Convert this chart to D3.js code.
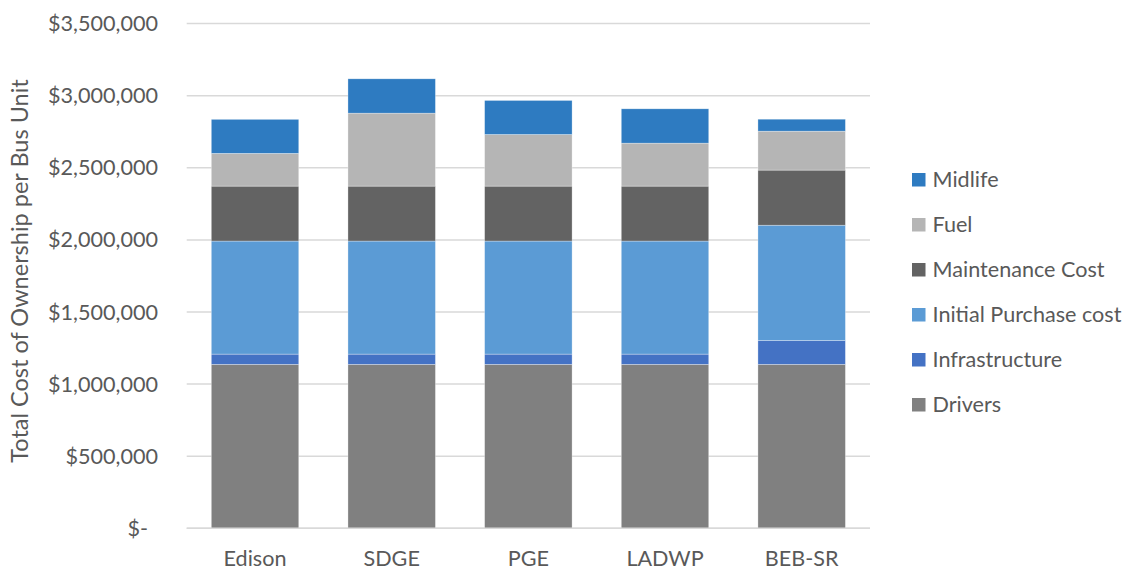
<!DOCTYPE html>
<html>
<head>
<meta charset="utf-8">
<script src="https://cdn.jsdelivr.net/npm/d3@7"></script>
<style>
  body { margin: 0; background: #fff; }
  svg { display: block; font-family: Lato, "Noto Sans", sans-serif; }
</style>
</head>
<body>
<svg id="chart" width="1128" height="570"></svg>
<script>
const categories = ["Edison", "SDGE", "PGE", "LADWP", "BEB-SR"];
const seriesNames = ["Drivers", "Infrastructure", "Initial Purchase cost", "Maintenance Cost", "Fuel", "Midlife"];
const drivers = [1137000, 1137000, 1137000, 1137000, 1137000];
const infrastructure = [71000, 71000, 71000, 71000, 166000];
const initialPurchase = [784000, 784000, 784000, 784000, 799000];
const maintenance = [381000, 381000, 381000, 381000, 382000];
const fuel = [227000, 506000, 358000, 298000, 270000];
const midlife = [236000, 238000, 236000, 238000, 83000];
const yTicks = [0, 500000, 1000000, 1500000, 2000000, 2500000, 3000000, 3500000];
const colors = ["#808080", "#4472C4", "#5B9BD5", "#636363", "#B5B5B5", "#2E7BC1"];

(function () {
const seriesValues = [drivers, infrastructure, initialPurchase, maintenance, fuel, midlife];
const rows = categories.map((c, i) => {
  const r = { cat: c };
  seriesNames.forEach((s, j) => r[s] = seriesValues[j][i]);
  return r;
});
const stacked = d3.stack().keys(seriesNames)(rows);

const svg = d3.select("#chart");
const pLeft = 186.7, pRight = 870, pTop = 23.6, pBottom = 528.3;
const fs = 21.6;

const x = d3.scaleBand().domain(categories).range([pLeft, pRight]).paddingInner(0.36).paddingOuter(0.18);
const y = d3.scaleLinear().domain([0, 3500000]).range([pBottom, pTop]);

// gridlines
svg.append("g").selectAll("line").data(yTicks).join("line")
  .attr("x1", pLeft).attr("x2", pRight)
  .attr("y1", d => y(d)).attr("y2", d => y(d))
  .attr("stroke", "#D9D9D9").attr("stroke-width", 1.5);

// y tick labels
const fmt = d3.format(",");
svg.append("g").selectAll("text").data(yTicks).join("text")
  .attr("x", d => d === 0 ? 148 : 158)
  .attr("y", d => y(d))
  .attr("dy", "0.35em")
  .attr("text-anchor", "end")
  .attr("fill", "#595959")
  .attr("font-size", fs)
  .text(d => d === 0 ? "$-" : "$" + fmt(d));

// bars
svg.append("g").selectAll("g").data(stacked).join("g")
  .attr("fill", (d, i) => colors[i])
  .selectAll("rect").data(d => d).join("rect")
  .attr("x", d => x(d.data.cat))
  .attr("width", x.bandwidth())
  .attr("y", d => y(d[1]))
  .attr("height", d => y(d[0]) - y(d[1]))
  .attr("stroke", "#ffffff").attr("stroke-width", 0.6).attr("stroke-opacity", 0.5);

// x axis line
svg.append("line").attr("x1", pLeft).attr("x2", pRight)
  .attr("y1", pBottom).attr("y2", pBottom)
  .attr("stroke", "#D9D9D9").attr("stroke-width", 1.5);

// x labels
svg.append("g").selectAll("text").data(categories).join("text")
  .attr("x", d => x(d) + x.bandwidth() / 2)
  .attr("y", 566)
  .attr("text-anchor", "middle")
  .attr("fill", "#595959")
  .attr("font-size", fs)
  .text(d => d);

// y title
svg.append("text")
  .attr("transform", "translate(28,271) rotate(-90)")
  .attr("text-anchor", "middle")
  .attr("fill", "#595959")
  .attr("font-size", 23.5)
  .text("Total Cost of Ownership per Bus Unit");

// legend (reverse order)
const legendItems = seriesNames.map((s, i) => ({ name: s, color: colors[i] })).reverse();
const lg = svg.append("g").selectAll("g").data(legendItems).join("g")
  .attr("transform", (d, i) => `translate(912,${179.5 + i * 45})`);
lg.append("rect").attr("x", 0).attr("y", -6.5).attr("width", 13.5).attr("height", 13.5).attr("fill", d => d.color);
lg.append("text").attr("x", 20.5).attr("y", 0).attr("dy", "0.35em")
  .attr("fill", "#595959").attr("font-size", fs).text(d => d.name);
})();
</script>
</body>
</html>
